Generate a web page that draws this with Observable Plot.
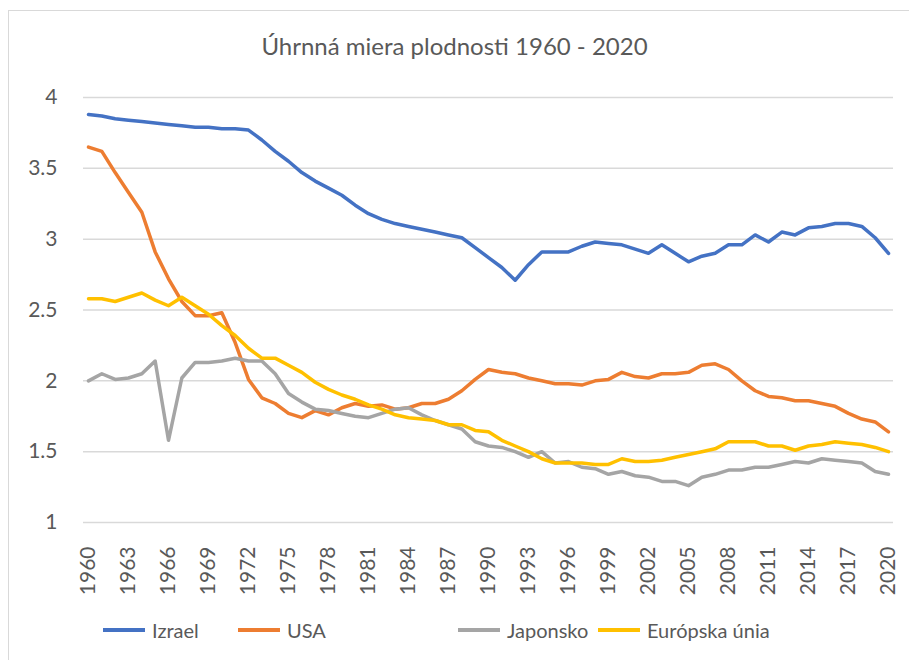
<!DOCTYPE html>
<html>
<head>
<meta charset="utf-8">
<script src="https://cdn.jsdelivr.net/npm/d3@7"></script>
<script src="https://cdn.jsdelivr.net/npm/@observablehq/plot@0.6"></script>
<style>
  html, body { margin: 0; padding: 0; background: #fff; }
  #wrap { position: relative; width: 909px; height: 660px; overflow: hidden; background: #fff; font-family: Lato, "Open Sans", sans-serif; }
  #frame { position: absolute; left: 8px; top: 10px; width: 940px; height: 700px; border: 1px solid #d9d9d9; box-sizing: border-box; }
  #title { position: absolute; left: 0; top: 31px; width: 909px; text-align: center; font-size: 24px; color: #595959; }
  #chart { position: absolute; left: 0; top: 0; }
  #chart svg text { fill: #595959; }
  #chart svg [aria-label^="y-axis"] text { font-size: 21px; }
  #chart svg [aria-label^="x-axis"] text { font-size: 21px; }
  .leg { position: absolute; top: 618px; font-size: 20px; color: #595959; display: flex; align-items: center; }
  .leg span.sw { display: inline-block; width: 42px; height: 4px; margin-right: 7px; }
</style>
</head>
<body>
<div id="wrap">
  <div id="frame"></div>
  <div id="chart"></div>
  <div id="title">Úhrnná miera plodnosti 1960 - 2020</div>
  <div id="legend"></div>
</div>
<script>
const chartTitle = "Úhrnná miera plodnosti 1960 - 2020";
const years = d3.range(1960, 2021);
const seriesNames = ["Izrael", "USA", "Japonsko", "Európska únia"];
const seriesColors = ["#4472C4", "#ED7D31", "#A5A5A5", "#FFC000"];
const yTicks = [1, 1.5, 2, 2.5, 3, 3.5, 4];
const xTicks = d3.range(1960, 2021, 3);

const izrael = [3.88,3.87,3.85,3.84,3.83,3.82,3.81,3.80,3.79,3.79,
  3.78,3.78,3.77,3.70,3.62,3.55,3.47,3.41,3.36,3.31,
  3.24,3.18,3.14,3.11,3.09,3.07,3.05,3.03,3.01,2.94,
  2.87,2.80,2.71,2.82,2.91,2.91,2.91,2.95,2.98,2.97,
  2.96,2.93,2.90,2.96,2.90,2.84,2.88,2.90,2.96,2.96,
  3.03,2.98,3.05,3.03,3.08,3.09,3.11,3.11,3.09,3.01,
  2.90];
const usa = [3.65,3.62,3.47,3.33,3.19,2.91,2.72,2.56,2.46,2.46,
  2.48,2.27,2.01,1.88,1.84,1.77,1.74,1.79,1.76,1.81,
  1.84,1.82,1.83,1.80,1.81,1.84,1.84,1.87,1.93,2.01,
  2.08,2.06,2.05,2.02,2.00,1.98,1.98,1.97,2.00,2.01,
  2.06,2.03,2.02,2.05,2.05,2.06,2.11,2.12,2.08,2.00,
  1.93,1.89,1.88,1.86,1.86,1.84,1.82,1.77,1.73,1.71,
  1.64];
const japonsko = [2.00,2.05,2.01,2.02,2.05,2.14,1.58,2.02,2.13,2.13,
  2.14,2.16,2.14,2.14,2.05,1.91,1.85,1.80,1.79,1.77,
  1.75,1.74,1.77,1.80,1.81,1.76,1.72,1.69,1.66,1.57,
  1.54,1.53,1.50,1.46,1.50,1.42,1.43,1.39,1.38,1.34,
  1.36,1.33,1.32,1.29,1.29,1.26,1.32,1.34,1.37,1.37,
  1.39,1.39,1.41,1.43,1.42,1.45,1.44,1.43,1.42,1.36,
  1.34];
const eu = [2.58,2.58,2.56,2.59,2.62,2.57,2.53,2.59,2.53,2.47,
  2.39,2.32,2.23,2.16,2.16,2.11,2.06,1.99,1.94,1.90,
  1.87,1.83,1.80,1.76,1.74,1.73,1.72,1.69,1.69,1.65,
  1.64,1.58,1.54,1.50,1.45,1.42,1.42,1.42,1.41,1.41,
  1.45,1.43,1.43,1.44,1.46,1.48,1.50,1.52,1.57,1.57,
  1.57,1.54,1.54,1.51,1.54,1.55,1.57,1.56,1.55,1.53,
  1.50];

const seriesValues = [izrael, usa, japonsko, eu];
const rows = seriesNames.flatMap((name, i) =>
  years.map((year, j) => ({series: name, year, value: seriesValues[i][j]})));

const plot = Plot.plot({
  width: 909,
  height: 610,
  marginTop: 97,
  marginBottom: 88,
  marginLeft: 83,
  marginRight: 16,
  style: {fontFamily: "Lato, 'Open Sans', sans-serif", background: "transparent", overflow: "visible"},
  x: {domain: [1959.625, 2020.375], ticks: xTicks, tickFormat: d => String(d), tickRotate: -90, tickSize: 0, tickPadding: 24, label: null},
  y: {domain: [1, 4], ticks: yTicks, tickFormat: d => String(d), tickSize: 0, tickPadding: 26, label: null},
  color: {domain: seriesNames, range: seriesColors},
  marks: [
    Plot.ruleY(yTicks, {stroke: "#d9d9d9", strokeWidth: 1.5}),
    Plot.line(rows, {x: "year", y: "value", z: "series", stroke: "series", strokeWidth: 3.5, strokeLinejoin: "round", strokeLinecap: "round"})
  ]
});
document.getElementById("chart").appendChild(plot);

const legendLeft = [103, 238, 458, 598];
const legend = document.getElementById("legend");
seriesNames.forEach((name, i) => {
  const el = document.createElement("div");
  el.className = "leg";
  el.style.left = legendLeft[i] + "px";
  el.innerHTML = `<span class="sw" style="background:${seriesColors[i]}"></span><span>${name}</span>`;
  legend.appendChild(el);
});
</script>
</body>
</html>
